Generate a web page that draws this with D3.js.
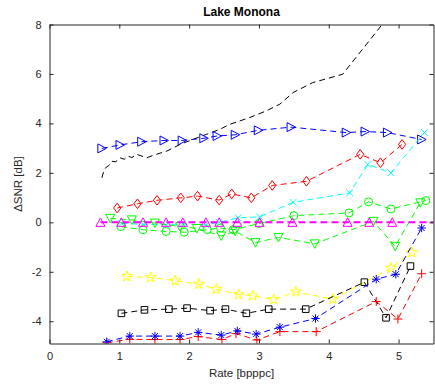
<!DOCTYPE html>
<html>
<head>
<meta charset="utf-8">
<script src="https://cdn.jsdelivr.net/npm/d3@7"></script>
<style>
  html, body { margin: 0; padding: 0; background: #fff; }
  svg { display: block; font-family: "Liberation Sans", Arial, Helvetica, sans-serif; }
</style>
</head>
<body>
<svg id="chart" width="435" height="387"></svg>
<script>
// ---- data: [rate (bpppc), ΔSNR (dB)] ----
const curveBlack = [[0.75,1.8],[0.77,2.0],[0.8,2.2],[0.85,2.3],[0.89,2.47],[0.95,2.45],[1.01,2.61],
  [1.07,2.55],[1.12,2.68],[1.18,2.62],[1.25,2.75],[1.39,2.61],[1.53,2.75],[1.68,2.88],[1.87,3.15],
  [2.06,3.36],[2.25,3.56],[2.44,3.76],[2.58,3.96],[2.87,4.24],[3.1,4.5],[3.3,4.78],[3.49,5.25],
  [3.77,5.65],[4.2,5.99],[4.39,6.67],[4.58,7.34],[4.77,8.02],[4.85,8.3]];
const triRightBlue = [[0.75,2.99],[1.01,3.13],[1.32,3.26],[1.64,3.31],[1.9,3.31],[2.21,3.4],[2.4,3.49],
  [2.66,3.54],[2.99,3.72],[3.46,3.85],[4.25,3.63],[4.52,3.67],[4.84,3.63],[5.33,3.35]];
const diamondRed = [[0.97,0.58],[1.26,0.75],[1.54,0.89],[1.88,0.99],[2.12,1.06],[2.43,0.9],[2.61,1.15],
  [2.89,0.99],[3.19,1.49],[3.68,1.66],[4.45,2.75],[4.74,2.41],[5.05,3.15]];
const crossCyan = [[1.03,-0.04],[1.34,-0.08],[1.67,-0.1],[1.91,-0.06],[2.24,-0.1],[2.43,0.0],[2.7,0.18],
  [3.01,0.22],[3.49,0.81],[4.3,1.19],[4.56,2.34],[4.89,2.0],[5.37,3.63]];
const circleGreen = [[1.02,-0.17],[1.34,-0.3],[1.67,-0.37],[1.93,-0.4],[2.26,-0.3],[2.45,-0.23],[2.63,-0.3],
  [3.0,-0.05],[3.5,0.27],[4.29,0.38],[4.57,0.83],[4.89,0.54],[5.39,0.88]];
const triDownGreen = [[0.87,0.16],[1.18,0.1],[1.51,-0.03],[1.87,-0.17],[2.11,-0.25],[2.46,-0.55],[2.66,-0.36],
  [2.95,-0.82],[3.28,-0.61],[3.8,-0.87],[4.64,0.04],[4.95,-0.97],[5.31,0.79]];
const triUpMagenta = [[0.73,0],[1.03,0],[1.34,0],[1.67,0],[1.91,0],[2.24,0],[2.43,0],[2.69,0],[3.01,0],
  [3.48,0],[4.27,0],[4.58,0],[4.91,0],[5.65,0]];
const starYellow = [[1.11,-2.19],[1.45,-2.23],[1.8,-2.36],[2.14,-2.5],[2.39,-2.7],[2.71,-2.92],[2.91,-2.97],
  [3.21,-3.12],[3.53,-2.81],[4.06,-3.11],[4.89,-1.85],[5.19,-1.22]];
const squareBlack = [[1.03,-3.68],[1.36,-3.54],[1.71,-3.51],[1.97,-3.47],[2.3,-3.57],[2.52,-3.51],[2.82,-3.68],
  [3.14,-3.51],[3.67,-3.51],[4.51,-2.42],[4.82,-3.86],[5.17,-1.77]];
const plusRed = [[0.82,-4.87],[1.15,-4.73],[1.51,-4.74],[1.87,-4.74],[2.13,-4.62],[2.47,-4.74],[2.67,-4.5],
  [2.97,-4.76],[3.3,-4.42],[3.82,-4.42],[4.68,-3.2],[4.99,-3.91],[5.33,-2.08]];
const asteriskBlue = [[0.82,-4.83],[1.15,-4.6],[1.51,-4.6],[1.87,-4.6],[2.13,-4.45],[2.46,-4.56],[2.69,-4.39],
  [2.96,-4.52],[3.3,-4.24],[3.81,-3.89],[4.68,-2.3],[4.96,-2.1],[5.33,-0.23]];

const xTicks = [0, 1, 2, 3, 4, 5];
const yTicks = [-4, -2, 0, 2, 4, 6, 8];

const series = [
  { data: curveBlack,   color: "#000000", marker: null },
  { data: triRightBlue, color: "#0000ff", marker: "triRight" },
  { data: diamondRed,   color: "#ff0000", marker: "diamond" },
  { data: crossCyan,    color: "#00ffff", marker: "cross" },
  { data: circleGreen,  color: "#00ff00", marker: "circle" },
  { data: triDownGreen, color: "#00ff00", marker: "triDown" },
  { data: triUpMagenta, color: "#ff00ff", marker: "triUp", width: 2 },
  { data: starYellow,   color: "#ffff00", marker: "star" },
  { data: squareBlack,  color: "#000000", marker: "square" },
  { data: plusRed,      color: "#ff0000", marker: "plus" },
  { data: asteriskBlue, color: "#0000ff", marker: "asterisk" }
];

// ---- layout ----
const mLeft = 49.5, mRight = 433.5, mTop = 24.5, mBottom = 343.5;
const x = d3.scaleLinear().domain([0, 5.5]).range([mLeft, mRight]);
const y = d3.scaleLinear().domain([-4.9, 8]).range([mBottom, mTop]);
const axisColor = "#262626";

const svg = d3.select("#chart");

svg.append("defs").append("clipPath").attr("id", "plotClip")
  .append("rect").attr("x", mLeft).attr("y", mTop)
  .attr("width", mRight - mLeft).attr("height", mBottom - mTop);

// marker shapes, centred on the origin
function markerPath(type) {
  const p = d3.path();
  switch (type) {
    case "triRight": p.moveTo(-4, -4.5); p.lineTo(4.5, 0); p.lineTo(-4, 4.5); p.closePath(); break;
    case "triUp":    p.moveTo(-4.5, 4); p.lineTo(0, -4.5); p.lineTo(4.5, 4); p.closePath(); break;
    case "triDown":  p.moveTo(-4.5, -4); p.lineTo(0, 4.5); p.lineTo(4.5, -4); p.closePath(); break;
    case "diamond":  p.moveTo(0, -4.8); p.lineTo(3.6, 0); p.lineTo(0, 4.8); p.lineTo(-3.6, 0); p.closePath(); break;
    case "circle":   p.moveTo(4, 0); p.arc(0, 0, 4, 0, 2 * Math.PI); break;
    case "square":   p.rect(-3.3, -3.3, 6.6, 6.6); break;
    case "cross":    p.moveTo(-3.3, -3.3); p.lineTo(3.3, 3.3); p.moveTo(-3.3, 3.3); p.lineTo(3.3, -3.3); break;
    case "plus":     p.moveTo(-4.5, 0); p.lineTo(4.5, 0); p.moveTo(0, -4.5); p.lineTo(0, 4.5); break;
    case "asterisk":
      p.moveTo(-4.2, 0); p.lineTo(4.2, 0); p.moveTo(0, -4.2); p.lineTo(0, 4.2);
      p.moveTo(-3, -3); p.lineTo(3, 3); p.moveTo(-3, 3); p.lineTo(3, -3); break;
    case "star": {
      const R = 5.6, r = 2.3;
      for (let i = 0; i < 10; i++) {
        const a = -Math.PI / 2 + i * Math.PI / 5;
        const rad = i % 2 === 0 ? R : r;
        const px = rad * Math.cos(a), py = rad * Math.sin(a);
        if (i === 0) p.moveTo(px, py); else p.lineTo(px, py);
      }
      p.closePath(); break;
    }
  }
  return p.toString();
}

const plot = svg.append("g").attr("clip-path", "url(#plotClip)");
const line = d3.line().x(d => x(d[0])).y(d => y(d[1]));

series.forEach(s => {
  const g = plot.append("g");
  g.append("path").datum(s.data)
    .attr("d", line)
    .attr("fill", "none")
    .attr("stroke", s.color)
    .attr("stroke-width", s.width || 1)
    .attr("stroke-dasharray", s.width ? "7,4" : "6,4");
  if (s.marker) {
    const shape = markerPath(s.marker);
    g.selectAll("path.mk").data(s.data).join("path")
      .attr("class", "mk")
      .attr("transform", d => `translate(${x(d[0])},${y(d[1])})`)
      .attr("d", shape)
      .attr("fill", "none")
      .attr("stroke", s.color)
      .attr("stroke-width", 1);
  }
});

// ---- axes (ticks pointing inward, boxed) ----
function styleAxis(g) {
  g.select(".domain").attr("stroke", axisColor);
  g.selectAll(".tick line").attr("stroke", axisColor);
  g.selectAll(".tick text").attr("fill", axisColor)
    .style("font-size", "11px")
    .style("font-family", "'Liberation Sans', Arial, sans-serif");
}

svg.append("g").attr("transform", `translate(0,${mBottom})`)
  .call(d3.axisBottom(x).tickValues(xTicks).tickFormat(d => String(d)).tickSizeInner(-4).tickSizeOuter(0).tickPadding(9))
  .call(styleAxis);
svg.append("g").attr("transform", `translate(0,${mTop})`)
  .call(d3.axisTop(x).tickValues(xTicks).tickFormat("").tickSizeInner(-4).tickSizeOuter(0))
  .call(styleAxis);
svg.append("g").attr("transform", `translate(${mLeft},0)`)
  .call(d3.axisLeft(y).tickValues(yTicks).tickFormat(d => String(d)).tickSizeInner(-4).tickSizeOuter(0).tickPadding(8))
  .call(styleAxis);
svg.append("g").attr("transform", `translate(${mRight},0)`)
  .call(d3.axisRight(y).tickValues(yTicks).tickFormat("").tickSizeInner(-4).tickSizeOuter(0))
  .call(styleAxis);

// ---- titles ----
svg.append("text")
  .attr("x", (mLeft + mRight) / 2).attr("y", 16)
  .attr("text-anchor", "middle")
  .attr("fill", "#000")
  .style("font-size", "12px").style("font-weight", "bold")
  .text("Lake Monona");

svg.append("text")
  .attr("x", (mLeft + mRight) / 2).attr("y", 377)
  .attr("text-anchor", "middle")
  .attr("fill", axisColor)
  .style("font-size", "11.5px")
  .text("Rate [bpppc]");

svg.append("text")
  .attr("transform", `translate(22,${(mTop + mBottom) / 2}) rotate(-90)`)
  .attr("text-anchor", "middle")
  .attr("fill", axisColor)
  .style("font-size", "11.5px")
  .text("ΔSNR [dB]");
</script>
</body>
</html>
